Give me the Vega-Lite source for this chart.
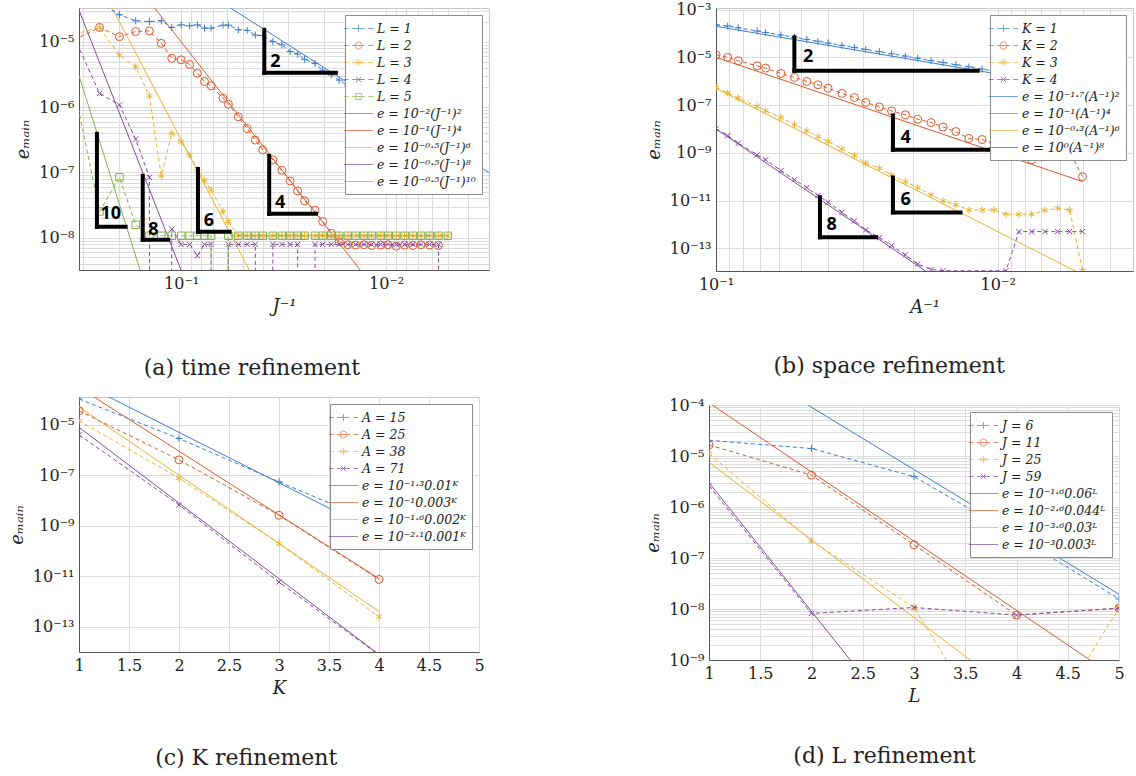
{
"$schema": "https://vega.github.io/schema/vega-lite/v6.json",
"padding": {"left": 7, "top": 1, "right": 0, "bottom": 0},
"background": "white",
"config": {
  "view": {"stroke": "#c8c8c8", "strokeWidth": 1},
  "axis": {"labelFont": "DejaVu Serif", "labelFontSize": 16, "labelColor": "#222", "titleFont": "DejaVu Serif", "titleFontSize": 18, "titleFontStyle": "italic", "titleFontWeight": "normal", "titleColor": "#222", "gridColor": "#dcdcdc", "gridWidth": 1, "domainColor": "#555", "ticks": false, "labelPadding": 5, "titlePadding": 6, "labelOverlap": false, "labelFlush": false},
  "legend": {"orient": "top-right", "offset": 7, "padding": 6, "fillColor": "white", "strokeColor": "#8c8c8c", "strokeWidth": 1, "labelFont": "DejaVu Serif", "labelFontStyle": "italic", "labelFontSize": 12.5, "labelColor": "#222", "symbolSize": 196, "symbolStrokeWidth": 1, "rowPadding": 3, "labelOffset": 11, "labelLimit": 300, "cornerRadius": 0},
  "title": {"font": "DejaVu Serif", "fontSize": 22, "fontWeight": "normal", "color": "#222"}
},
"datasets": {
  "a_pts": [
    {"s":"L = 1","x":0.25,"y":4.0e-5},{"s":"L = 1","x":0.2,"y":2.6e-5},{"s":"L = 1","x":0.16667,"y":2.1e-5},{"s":"L = 1","x":0.14286,"y":2.05e-5},{"s":"L = 1","x":0.125,"y":2.1e-5},{"s":"L = 1","x":0.11111,"y":1.66e-5},{"s":"L = 1","x":0.1,"y":1.82e-5},{"s":"L = 1","x":0.090909,"y":1.76e-5},{"s":"L = 1","x":0.083333,"y":1.82e-5},{"s":"L = 1","x":0.076923,"y":1.62e-5},{"s":"L = 1","x":0.071429,"y":1.62e-5},{"s":"L = 1","x":0.0625,"y":1.8e-5},{"s":"L = 1","x":0.058824,"y":1.8e-5},{"s":"L = 1","x":0.052632,"y":1.53e-5},{"s":"L = 1","x":0.047619,"y":1.5e-5},{"s":"L = 1","x":0.043478,"y":1.27e-5},{"s":"L = 1","x":0.04,"y":1.25e-5},{"s":"L = 1","x":0.035714,"y":1.01e-5},{"s":"L = 1","x":0.032258,"y":9.0e-6},{"s":"L = 1","x":0.029412,"y":7.1e-6},{"s":"L = 1","x":0.027027,"y":6.5e-6},{"s":"L = 1","x":0.025,"y":5.4e-6},{"s":"L = 1","x":0.022222,"y":4.66e-6},{"s":"L = 1","x":0.020408,"y":3.68e-6},{"s":"L = 1","x":0.018519,"y":3.12e-6},{"s":"L = 1","x":0.016949,"y":2.59e-6},{"s":"L = 1","x":0.015385,"y":2.13e-6},{"s":"L = 1","x":0.014085,"y":1.79e-6},{"s":"L = 1","x":0.012821,"y":1.48e-6},{"s":"L = 1","x":0.011765,"y":1.25e-6},{"s":"L = 1","x":0.010638,"y":1.02e-6},{"s":"L = 1","x":0.0098039,"y":8.7e-7},{"s":"L = 1","x":0.0089286,"y":7.2e-7},{"s":"L = 1","x":0.0081301,"y":6.0e-7},
    {"s":"L = 2","x":0.33333,"y":1.07e-5},{"s":"L = 2","x":0.25,"y":1.66e-5},{"s":"L = 2","x":0.2,"y":1.2e-5},{"s":"L = 2","x":0.16667,"y":1.44e-5},{"s":"L = 2","x":0.14286,"y":1.47e-5},{"s":"L = 2","x":0.125,"y":9.5e-6},{"s":"L = 2","x":0.11111,"y":5.6e-6},{"s":"L = 2","x":0.1,"y":5.3e-6},{"s":"L = 2","x":0.090909,"y":4.5e-6},{"s":"L = 2","x":0.083333,"y":3.3e-6},{"s":"L = 2","x":0.076923,"y":2.47e-6},{"s":"L = 2","x":0.071429,"y":2.12e-6},{"s":"L = 2","x":0.0625,"y":1.37e-6},{"s":"L = 2","x":0.058824,"y":1.11e-6},{"s":"L = 2","x":0.052632,"y":7.1e-7},{"s":"L = 2","x":0.047619,"y":4.7e-7},{"s":"L = 2","x":0.043478,"y":3.13e-7},{"s":"L = 2","x":0.04,"y":2.22e-7},{"s":"L = 2","x":0.035714,"y":1.56e-7},{"s":"L = 2","x":0.032258,"y":1.08e-7},{"s":"L = 2","x":0.029412,"y":7.4e-8},{"s":"L = 2","x":0.027027,"y":5.2e-8},{"s":"L = 2","x":0.025,"y":3.67e-8},{"s":"L = 2","x":0.022222,"y":2.64e-8},{"s":"L = 2","x":0.020408,"y":1.77e-8},{"s":"L = 2","x":0.018519,"y":1.17e-8},{"s":"L = 2","x":0.016949,"y":8.7e-9},{"s":"L = 2","x":0.015385,"y":7.8e-9},{"s":"L = 2","x":0.014085,"y":7.7e-9},{"s":"L = 2","x":0.012821,"y":7.8e-9},{"s":"L = 2","x":0.011765,"y":7.6e-9},{"s":"L = 2","x":0.010638,"y":7.7e-9},{"s":"L = 2","x":0.0098039,"y":7.8e-9},{"s":"L = 2","x":0.0089286,"y":7.4e-9},{"s":"L = 2","x":0.0081301,"y":7.7e-9},{"s":"L = 2","x":0.0074074,"y":7.6e-9},{"s":"L = 2","x":0.0067568,"y":7.8e-9},{"s":"L = 2","x":0.006135,"y":7.7e-9},{"s":"L = 2","x":0.0055556,"y":7.6e-9},
    {"s":"L = 3","x":0.33333,"y":1.3e-5},{"s":"L = 3","x":0.25,"y":1.66e-5},{"s":"L = 3","x":0.2,"y":6.25e-6},{"s":"L = 3","x":0.16667,"y":4.14e-6},{"s":"L = 3","x":0.14286,"y":1.49e-6},{"s":"L = 3","x":0.125,"y":8.9e-8},{"s":"L = 3","x":0.11111,"y":4.0e-7},{"s":"L = 3","x":0.1,"y":2.94e-7},{"s":"L = 3","x":0.090909,"y":1.84e-7},{"s":"L = 3","x":0.083333,"y":1.12e-7},{"s":"L = 3","x":0.076923,"y":7.6e-8},{"s":"L = 3","x":0.071429,"y":5.4e-8},{"s":"L = 3","x":0.0625,"y":2.52e-8},{"s":"L = 3","x":0.058824,"y":1.77e-8},{"s":"L = 3","x":0.052632,"y":1.07e-8},{"s":"L = 3","x":0.047619,"y":1.07e-8},{"s":"L = 3","x":0.043478,"y":1.07e-8},{"s":"L = 3","x":0.04,"y":1.07e-8},{"s":"L = 3","x":0.035714,"y":1.07e-8},{"s":"L = 3","x":0.032258,"y":1.07e-8},{"s":"L = 3","x":0.029412,"y":1.07e-8},{"s":"L = 3","x":0.027027,"y":1.07e-8},{"s":"L = 3","x":0.025,"y":1.07e-8},{"s":"L = 3","x":0.022222,"y":1.07e-8},{"s":"L = 3","x":0.020408,"y":1.07e-8},{"s":"L = 3","x":0.018519,"y":1.07e-8},{"s":"L = 3","x":0.016949,"y":1.07e-8},{"s":"L = 3","x":0.015385,"y":1.07e-8},{"s":"L = 3","x":0.014085,"y":1.07e-8},{"s":"L = 3","x":0.012821,"y":1.07e-8},{"s":"L = 3","x":0.011765,"y":1.07e-8},{"s":"L = 3","x":0.010638,"y":1.07e-8},{"s":"L = 3","x":0.0098039,"y":1.07e-8},{"s":"L = 3","x":0.0089286,"y":1.07e-8},{"s":"L = 3","x":0.0081301,"y":1.07e-8},{"s":"L = 3","x":0.0074074,"y":1.07e-8},{"s":"L = 3","x":0.0067568,"y":1.07e-8},{"s":"L = 3","x":0.006135,"y":1.07e-8},{"s":"L = 3","x":0.0055556,"y":1.07e-8},{"s":"L = 3","x":0.005,"y":1.07e-8},
    {"s":"L = 4","x":0.33333,"y":1.19e-5},{"s":"L = 4","x":0.25,"y":1.62e-6},{"s":"L = 4","x":0.2,"y":1.08e-6},{"s":"L = 4","x":0.16667,"y":3.24e-7},{"s":"L = 4","x":0.14286,"y":8.4e-8},{"s":"L = 4","x":0.125,"y":1e-100},{"s":"L = 4","x":0.11111,"y":1.35e-8},{"s":"L = 4","x":0.1,"y":7.9e-9},{"s":"L = 4","x":0.090909,"y":7.9e-9},{"s":"L = 4","x":0.083333,"y":5.3e-9},{"s":"L = 4","x":0.076923,"y":7.9e-9},{"s":"L = 4","x":0.071429,"y":7.9e-9},{"s":"L = 4","x":0.0625,"y":1e-100},{"s":"L = 4","x":0.058824,"y":7.9e-9},{"s":"L = 4","x":0.052632,"y":7.9e-9},{"s":"L = 4","x":0.047619,"y":7.9e-9},{"s":"L = 4","x":0.043478,"y":7.9e-9},{"s":"L = 4","x":0.04,"y":1e-100},{"s":"L = 4","x":0.035714,"y":7.9e-9},{"s":"L = 4","x":0.032258,"y":7.9e-9},{"s":"L = 4","x":0.029412,"y":7.9e-9},{"s":"L = 4","x":0.027027,"y":7.9e-9},{"s":"L = 4","x":0.025,"y":1e-100},{"s":"L = 4","x":0.022222,"y":7.9e-9},{"s":"L = 4","x":0.020408,"y":7.9e-9},{"s":"L = 4","x":0.018519,"y":7.9e-9},{"s":"L = 4","x":0.016949,"y":7.9e-9},{"s":"L = 4","x":0.015385,"y":7.9e-9},{"s":"L = 4","x":0.014085,"y":7.9e-9},{"s":"L = 4","x":0.012821,"y":7.9e-9},{"s":"L = 4","x":0.011765,"y":7.9e-9},{"s":"L = 4","x":0.010638,"y":7.9e-9},{"s":"L = 4","x":0.0098039,"y":7.9e-9},{"s":"L = 4","x":0.0089286,"y":7.9e-9},{"s":"L = 4","x":0.0081301,"y":7.9e-9},{"s":"L = 4","x":0.0074074,"y":7.9e-9},{"s":"L = 4","x":0.0067568,"y":7.9e-9},{"s":"L = 4","x":0.006135,"y":7.9e-9},{"s":"L = 4","x":0.0055556,"y":7.9e-9},{"s":"L = 4","x":0.005,"y":1e-100},
    {"s":"L = 5","x":0.33333,"y":2.0e-6},{"s":"L = 5","x":0.25,"y":2.52e-8},{"s":"L = 5","x":0.2,"y":8.4e-8},{"s":"L = 5","x":0.16667,"y":1.58e-8},{"s":"L = 5","x":0.14286,"y":1.07e-8},{"s":"L = 5","x":0.125,"y":1.07e-8},{"s":"L = 5","x":0.11111,"y":1.07e-8},{"s":"L = 5","x":0.1,"y":1.07e-8},{"s":"L = 5","x":0.090909,"y":1.07e-8},{"s":"L = 5","x":0.083333,"y":1.07e-8},{"s":"L = 5","x":0.076923,"y":1.07e-8},{"s":"L = 5","x":0.071429,"y":1.07e-8},{"s":"L = 5","x":0.0625,"y":1e-100},{"s":"L = 5","x":0.058824,"y":1.07e-8},{"s":"L = 5","x":0.052632,"y":1.07e-8},{"s":"L = 5","x":0.047619,"y":1.07e-8},{"s":"L = 5","x":0.043478,"y":1.07e-8},{"s":"L = 5","x":0.04,"y":1.07e-8},{"s":"L = 5","x":0.035714,"y":1.07e-8},{"s":"L = 5","x":0.032258,"y":1.07e-8},{"s":"L = 5","x":0.029412,"y":1.07e-8},{"s":"L = 5","x":0.027027,"y":1.07e-8},{"s":"L = 5","x":0.025,"y":1.07e-8},{"s":"L = 5","x":0.022222,"y":1.07e-8},{"s":"L = 5","x":0.020408,"y":1.07e-8},{"s":"L = 5","x":0.018519,"y":1.07e-8},{"s":"L = 5","x":0.016949,"y":1.07e-8},{"s":"L = 5","x":0.015385,"y":1.07e-8},{"s":"L = 5","x":0.014085,"y":1.07e-8},{"s":"L = 5","x":0.012821,"y":1.07e-8},{"s":"L = 5","x":0.011765,"y":1.07e-8},{"s":"L = 5","x":0.010638,"y":1.07e-8},{"s":"L = 5","x":0.0098039,"y":1.07e-8},{"s":"L = 5","x":0.0089286,"y":1.07e-8},{"s":"L = 5","x":0.0081301,"y":1.07e-8},{"s":"L = 5","x":0.0074074,"y":1.07e-8},{"s":"L = 5","x":0.0067568,"y":1.07e-8},{"s":"L = 5","x":0.006135,"y":1.07e-8},{"s":"L = 5","x":0.0055556,"y":1.07e-8},{"s":"L = 5","x":0.005,"y":1.07e-8}
  ],
  "a_fit": [
    {"s":"f2","x":0.315,"y":9.92e-4},{"s":"f2","x":0.00315,"y":9.92e-8},
    {"s":"f4","x":0.315,"y":9.85e-4},{"s":"f4","x":0.00315,"y":9.85e-12},
    {"s":"f6","x":0.315,"y":3.09e-4},{"s":"f6","x":0.00315,"y":3.09e-16},
    {"s":"f8","x":0.315,"y":3.06e-5},{"s":"f8","x":0.00315,"y":3.06e-21},
    {"s":"f10","x":0.315,"y":3.04e-6},{"s":"f10","x":0.00315,"y":3.04e-26}
  ],
  "a_leg": [{"s":"L = 1"},{"s":"L = 2"},{"s":"L = 3"},{"s":"L = 4"},{"s":"L = 5"},{"s":"e = 10⁻²(J⁻¹)²"},{"s":"e = 10⁻¹(J⁻¹)⁴"},{"s":"e = 10⁻⁰·⁵(J⁻¹)⁶"},{"s":"e = 10⁻⁰·⁵(J⁻¹)⁸"},{"s":"e = 10⁻⁰·⁵(J⁻¹)¹⁰"}],
  "a_tri": [
    {"x":0.0393,"x2":0.0393,"y":1.53e-5,"y2":3.35e-6},{"x":0.0393,"x2":0.0176,"y":3.35e-6,"y2":3.35e-6},
    {"x":0.0372,"x2":0.0372,"y":1.79e-7,"y2":2.32e-8},{"x":0.0372,"x2":0.022,"y":2.32e-8,"y2":2.32e-8},
    {"x":0.0828,"x2":0.0828,"y":1.13e-7,"y2":1.23e-8},{"x":0.0828,"x2":0.058,"y":1.23e-8,"y2":1.23e-8},
    {"x":0.154,"x2":0.154,"y":8.87e-8,"y2":9.29e-9},{"x":0.154,"x2":0.1156,"y":9.29e-9,"y2":9.29e-9},
    {"x":0.2576,"x2":0.2576,"y":3.9e-7,"y2":1.47e-8},{"x":0.2576,"x2":0.1866,"y":1.47e-8,"y2":1.47e-8}
  ],
  "a_txt": [{"x":0.0347,"y":4.94e-6,"t":"2"},{"x":0.0329,"y":3.42e-8,"t":"4"},{"x":0.0733,"y":1.82e-8,"t":"6"},{"x":0.1365,"y":1.32e-8,"t":"8"},{"x":0.2203,"y":2.32e-8,"t":"10"}],
  "b_pts": [
    {"s":"K = 1","x":0.1,"y":2.3e-4},{"s":"K = 1","x":0.090909,"y":2.06e-4},{"s":"K = 1","x":0.083333,"y":1.73e-4},{"s":"K = 1","x":0.071429,"y":1.27e-4},{"s":"K = 1","x":0.066667,"y":1.11e-4},{"s":"K = 1","x":0.058824,"y":8.6e-5},{"s":"K = 1","x":0.052632,"y":6.9e-5},{"s":"K = 1","x":0.047619,"y":5.66e-5},{"s":"K = 1","x":0.043478,"y":4.71e-5},{"s":"K = 1","x":0.04,"y":3.99e-5},{"s":"K = 1","x":0.035714,"y":3.18e-5},{"s":"K = 1","x":0.032258,"y":2.6e-5},{"s":"K = 1","x":0.029412,"y":2.16e-5},{"s":"K = 1","x":0.026316,"y":1.73e-5},{"s":"K = 1","x":0.02381,"y":1.41e-5},{"s":"K = 1","x":0.021277,"y":1.13e-5},{"s":"K = 1","x":0.019231,"y":9.2e-6},{"s":"K = 1","x":0.017241,"y":7.4e-6},{"s":"K = 1","x":0.015625,"y":6.1e-6},{"s":"K = 1","x":0.014085,"y":4.95e-6},{"s":"K = 1","x":0.012658,"y":4.0e-6},{"s":"K = 1","x":0.011364,"y":3.22e-6},{"s":"K = 1","x":0.010309,"y":2.65e-6},{"s":"K = 1","x":0.0093458,"y":2.18e-6},{"s":"K = 1","x":0.0084034,"y":1.76e-6},{"s":"K = 1","x":0.0075758,"y":1.43e-6},{"s":"K = 1","x":0.0068027,"y":1.15e-6},{"s":"K = 1","x":0.006135,"y":9.4e-7},{"s":"K = 1","x":0.0055556,"y":7.7e-7},{"s":"K = 1","x":0.005,"y":6.2e-7},
    {"s":"K = 2","x":0.1,"y":1.29e-5},{"s":"K = 2","x":0.090909,"y":1.0e-5},{"s":"K = 2","x":0.083333,"y":7.2e-6},{"s":"K = 2","x":0.071429,"y":4.4e-6},{"s":"K = 2","x":0.066667,"y":3.55e-6},{"s":"K = 2","x":0.058824,"y":2.13e-6},{"s":"K = 2","x":0.052632,"y":1.44e-6},{"s":"K = 2","x":0.047619,"y":9.8e-7},{"s":"K = 2","x":0.043478,"y":7.1e-7},{"s":"K = 2","x":0.04,"y":5.1e-7},{"s":"K = 2","x":0.035714,"y":3.07e-7},{"s":"K = 2","x":0.032258,"y":2.08e-7},{"s":"K = 2","x":0.029412,"y":1.29e-7},{"s":"K = 2","x":0.026316,"y":8.4e-8},{"s":"K = 2","x":0.02381,"y":5.7e-8},{"s":"K = 2","x":0.021277,"y":3.9e-8},{"s":"K = 2","x":0.019231,"y":2.56e-8},{"s":"K = 2","x":0.017241,"y":1.86e-8},{"s":"K = 2","x":0.015625,"y":1.21e-8},{"s":"K = 2","x":0.014085,"y":7.8e-9},{"s":"K = 2","x":0.012658,"y":4.0e-9},{"s":"K = 2","x":0.011364,"y":3.6e-9},{"s":"K = 2","x":0.010309,"y":2.5e-9},{"s":"K = 2","x":0.0093458,"y":1.6e-9},{"s":"K = 2","x":0.0084034,"y":1.0e-9},{"s":"K = 2","x":0.0075758,"y":5.1e-10},{"s":"K = 2","x":0.0068027,"y":1.3e-9},{"s":"K = 2","x":0.006135,"y":1.13e-9},{"s":"K = 2","x":0.0055556,"y":1.13e-9},{"s":"K = 2","x":0.005,"y":1.0e-10},
    {"s":"K = 3","x":0.1,"y":5.5e-7},{"s":"K = 3","x":0.090909,"y":3.2e-7},{"s":"K = 3","x":0.083333,"y":1.97e-7},{"s":"K = 3","x":0.071429,"y":8.8e-8},{"s":"K = 3","x":0.066667,"y":5.8e-8},{"s":"K = 3","x":0.058824,"y":3.04e-8},{"s":"K = 3","x":0.052632,"y":1.5e-8},{"s":"K = 3","x":0.047619,"y":8.4e-9},{"s":"K = 3","x":0.043478,"y":4.8e-9},{"s":"K = 3","x":0.04,"y":3.0e-9},{"s":"K = 3","x":0.035714,"y":1.47e-9},{"s":"K = 3","x":0.032258,"y":7.7e-10},{"s":"K = 3","x":0.029412,"y":3.7e-10},{"s":"K = 3","x":0.026316,"y":2.28e-10},{"s":"K = 3","x":0.02381,"y":1.19e-10},{"s":"K = 3","x":0.021277,"y":6.2e-11},{"s":"K = 3","x":0.019231,"y":3.5e-11},{"s":"K = 3","x":0.017241,"y":1.73e-11},{"s":"K = 3","x":0.015625,"y":9.7e-12},{"s":"K = 3","x":0.014085,"y":6.6e-12},{"s":"K = 3","x":0.012658,"y":4.05e-12},{"s":"K = 3","x":0.011364,"y":4.05e-12},{"s":"K = 3","x":0.010309,"y":4.05e-12},{"s":"K = 3","x":0.0093458,"y":2.67e-12},{"s":"K = 3","x":0.0084034,"y":2.67e-12},{"s":"K = 3","x":0.0075758,"y":2.67e-12},{"s":"K = 3","x":0.0068027,"y":3.9e-12},{"s":"K = 3","x":0.006135,"y":4.8e-12},{"s":"K = 3","x":0.0055556,"y":4.05e-12},{"s":"K = 3","x":0.005,"y":1.15e-14},
    {"s":"K = 4","x":0.1,"y":1.02e-8},{"s":"K = 4","x":0.090909,"y":5.3e-9},{"s":"K = 4","x":0.083333,"y":2.55e-9},{"s":"K = 4","x":0.071429,"y":8.2e-10},{"s":"K = 4","x":0.066667,"y":5.1e-10},{"s":"K = 4","x":0.058824,"y":1.8e-10},{"s":"K = 4","x":0.052632,"y":7.4e-11},{"s":"K = 4","x":0.047619,"y":3.5e-11},{"s":"K = 4","x":0.043478,"y":1.62e-11},{"s":"K = 4","x":0.04,"y":8.5e-12},{"s":"K = 4","x":0.035714,"y":3.2e-12},{"s":"K = 4","x":0.032258,"y":1.4e-12},{"s":"K = 4","x":0.029412,"y":5.9e-13},{"s":"K = 4","x":0.026316,"y":2.8e-13},{"s":"K = 4","x":0.02381,"y":1.3e-13},{"s":"K = 4","x":0.021277,"y":5.3e-14},{"s":"K = 4","x":0.019231,"y":2.2e-14},{"s":"K = 4","x":0.017241,"y":1.3e-14},{"s":"K = 4","x":0.015625,"y":1.15e-14},{"s":"K = 4","x":0.0093458,"y":1.15e-14},{"s":"K = 4","x":0.0084034,"y":5.0e-13},{"s":"K = 4","x":0.0075758,"y":5.0e-13},{"s":"K = 4","x":0.0068027,"y":5.0e-13},{"s":"K = 4","x":0.006135,"y":5.0e-13},{"s":"K = 4","x":0.0055556,"y":5.0e-13},{"s":"K = 4","x":0.005,"y":5.0e-13}
  ],
  "b_fit": [
    {"s":"f2","x":0.1,"y":1.995e-4},{"s":"f2","x":0.005,"y":4.99e-7},
    {"s":"f4","x":0.1,"y":1e-5},{"s":"f4","x":0.005,"y":6.25e-11},
    {"s":"f6","x":0.1,"y":5.01e-7},{"s":"f6","x":0.005,"y":7.83e-15},
    {"s":"f8","x":0.1,"y":1e-8},{"s":"f8","x":0.005,"y":3.9e-19}
  ],
  "b_leg": [{"s":"K = 1"},{"s":"K = 2"},{"s":"K = 3"},{"s":"K = 4"},{"s":"e = 10⁻¹·⁷(A⁻¹)²"},{"s":"e = 10⁻¹(A⁻¹)⁴"},{"s":"e = 10⁻⁰·³(A⁻¹)⁶"},{"s":"e = 10⁰(A⁻¹)⁸"}],
  "b_tri": [
    {"x":0.0527,"x2":0.0527,"y":6.9e-5,"y2":2.76e-6},{"x":0.0527,"x2":0.01178,"y":2.76e-6,"y2":2.76e-6},
    {"x":0.02355,"x2":0.02355,"y":3.68e-8,"y2":1.34e-9},{"x":0.02355,"x2":0.01061,"y":1.34e-9,"y2":1.34e-9},
    {"x":0.02355,"x2":0.02355,"y":9.2e-11,"y2":3.2e-12},{"x":0.02355,"x2":0.01355,"y":3.2e-12,"y2":3.2e-12},
    {"x":0.04276,"x2":0.04276,"y":1.38e-11,"y2":2.9e-13},{"x":0.04276,"x2":0.02704,"y":2.9e-13,"y2":2.9e-13}
  ],
  "b_txt": [{"x":0.0471,"y":1.0e-5,"t":"2"},{"x":0.02123,"y":4.1e-9,"t":"4"},{"x":0.02123,"y":1.07e-11,"t":"6"},{"x":0.0389,"y":9.5e-13,"t":"8"}],
  "c_pts": [
    {"s":"A = 15","x":1,"y":1.05e-4},{"s":"A = 15","x":2,"y":2.87e-6},{"s":"A = 15","x":3,"y":5.5e-8},{"s":"A = 15","x":4,"y":1.2e-9},
    {"s":"A = 25","x":1,"y":3.6e-5},{"s":"A = 25","x":2,"y":4.08e-7},{"s":"A = 25","x":3,"y":2.6e-9},{"s":"A = 25","x":4,"y":7.5e-12},
    {"s":"A = 38","x":1,"y":1.44e-5},{"s":"A = 38","x":2,"y":7.7e-8},{"s":"A = 38","x":3,"y":2.0e-10},{"s":"A = 38","x":4,"y":2.5e-13},
    {"s":"A = 71","x":1,"y":4.0e-6},{"s":"A = 71","x":2,"y":6.7e-9},{"s":"A = 71","x":3,"y":5.9e-12},{"s":"A = 71","x":4,"y":7.6e-15}
  ],
  "c_fit": [
    {"s":"f1","x":1,"y":5.01e-4},{"s":"f1","x":4,"y":5.01e-10},
    {"s":"f2","x":1,"y":3e-4},{"s":"f2","x":4,"y":8.1e-12},
    {"s":"f3","x":1,"y":5.02e-5},{"s":"f3","x":4,"y":4.02e-13},
    {"s":"f4","x":1,"y":7.94e-6},{"s":"f4","x":4,"y":7.94e-15}
  ],
  "c_leg": [{"s":"A = 15"},{"s":"A = 25"},{"s":"A = 38"},{"s":"A = 71"},{"s":"e = 10⁻¹·³0.01ᴷ"},{"s":"e = 10⁻¹0.003ᴷ"},{"s":"e = 10⁻¹·⁶0.002ᴷ"},{"s":"e = 10⁻²·¹0.001ᴷ"}],
  "d_pts": [
    {"s":"J = 6","x":1,"y":2.03e-5},{"s":"J = 6","x":2,"y":1.4e-5},{"s":"J = 6","x":3,"y":3.95e-6},{"s":"J = 6","x":4,"y":2.7e-7},{"s":"J = 6","x":5,"y":1.57e-8},
    {"s":"J = 11","x":1,"y":1.65e-5},{"s":"J = 11","x":2,"y":4.2e-6},{"s":"J = 11","x":3,"y":1.82e-7},{"s":"J = 11","x":4,"y":7.6e-9},{"s":"J = 11","x":5,"y":1.04e-8},
    {"s":"J = 25","x":1,"y":1.11e-5},{"s":"J = 25","x":2,"y":2.17e-7},{"s":"J = 25","x":3,"y":1.07e-8},{"s":"J = 25","x":4,"y":6e-12},{"s":"J = 25","x":5,"y":1.04e-8},
    {"s":"J = 59","x":1,"y":2.6e-6},{"s":"J = 59","x":2,"y":8.2e-9},{"s":"J = 59","x":3,"y":1.07e-8},{"s":"J = 59","x":4,"y":7.6e-9},{"s":"J = 59","x":5,"y":1.04e-8}
  ],
  "d_fit": [
    {"s":"f1","x":1,"y":1.506e-3},{"s":"f1","x":5,"y":1.95e-8},
    {"s":"f2","x":1,"y":1.105e-4},{"s":"f2","x":5,"y":4.14e-10},
    {"s":"f3","x":1,"y":7.54e-6},{"s":"f3","x":5,"y":6.1e-12},
    {"s":"f4","x":1,"y":3e-6},{"s":"f4","x":5,"y":2.43e-16}
  ],
  "d_leg": [{"s":"J = 6"},{"s":"J = 11"},{"s":"J = 25"},{"s":"J = 59"},{"s":"e = 10⁻¹·⁶0.06ᴸ"},{"s":"e = 10⁻²·⁶0.044ᴸ"},{"s":"e = 10⁻³·⁶0.03ᴸ"},{"s":"e = 10⁻³0.003ᴸ"}]
},
"columns": 2,
"align": "none",
"spacing": {"row": 16, "column": 154},
"resolve": {"scale": {"color": "independent", "shape": "independent", "x": "independent", "y": "independent"}, "legend": {"color": "independent", "shape": "independent"}},
"concat": [
   {
    "width": 410, "height": 262,
    "title": {"text": "(a) time refinement", "orient": "bottom", "anchor": "middle", "frame": "bounds", "offset": 43},
    "encoding": {
      "x": {"field": "x", "type": "quantitative", "scale": {"type": "log", "domain": [0.00315, 0.315], "reverse": true, "nice": false}, "axis": {"title": "J⁻¹", "values": [0.3,0.2,0.1,0.09,0.08,0.07,0.06,0.05,0.04,0.03,0.02,0.01,0.009,0.008,0.007,0.006,0.005,0.004], "labelExpr": "abs(log(datum.value)/LN10-round(log(datum.value)/LN10))>0.01?'':'10'+(round(log(datum.value)/LN10)<0?'⁻':'')+(abs(round(log(datum.value)/LN10))>=10?['⁰','¹','²','³','⁴','⁵','⁶','⁷','⁸','⁹'][floor(abs(round(log(datum.value)/LN10))/10)]:'')+['⁰','¹','²','³','⁴','⁵','⁶','⁷','⁸','⁹'][abs(round(log(datum.value)/LN10))%10]"}},
      "y": {"field": "y", "type": "quantitative", "scale": {"type": "log", "domain": [3.2e-9, 3.3e-5], "nice": false}, "axis": {"title": "eₘₐᵢₙ", "titlePadding": 6, "values": [4e-9,5e-9,6e-9,7e-9,8e-9,9e-9,1e-8,2e-8,3e-8,4e-8,5e-8,6e-8,7e-8,8e-8,9e-8,1e-7,2e-7,3e-7,4e-7,5e-7,6e-7,7e-7,8e-7,9e-7,1e-6,2e-6,3e-6,4e-6,5e-6,6e-6,7e-6,8e-6,9e-6,1e-5,2e-5,3e-5], "labelExpr": "abs(log(datum.value)/LN10-round(log(datum.value)/LN10))>0.01?'':'10'+(round(log(datum.value)/LN10)<0?'⁻':'')+(abs(round(log(datum.value)/LN10))>=10?['⁰','¹','²','³','⁴','⁵','⁶','⁷','⁸','⁹'][floor(abs(round(log(datum.value)/LN10))/10)]:'')+['⁰','¹','²','³','⁴','⁵','⁶','⁷','⁸','⁹'][abs(round(log(datum.value)/LN10))%10]"}}
    },
    "layer": [
      {"data": {"name": "a_fit"}, "transform": [{"filter": "datum.s === 'f2'"}], "mark": {"type": "line", "color": "#3c7dd1", "strokeWidth": 1, "clip": true}},
      {"data": {"name": "a_fit"}, "transform": [{"filter": "datum.s === 'f4'"}], "mark": {"type": "line", "color": "#dc5a2c", "strokeWidth": 1, "clip": true}},
      {"data": {"name": "a_fit"}, "transform": [{"filter": "datum.s === 'f6'"}], "mark": {"type": "line", "color": "#ebb12b", "strokeWidth": 1, "clip": true}},
      {"data": {"name": "a_fit"}, "transform": [{"filter": "datum.s === 'f8'"}], "mark": {"type": "line", "color": "#854a9f", "strokeWidth": 1, "clip": true}},
      {"data": {"name": "a_fit"}, "transform": [{"filter": "datum.s === 'f10'"}], "mark": {"type": "line", "color": "#84b247", "strokeWidth": 1, "clip": true}},
      {"data": {"name": "a_pts"}, "transform": [{"filter": "datum.s === 'L = 1'"}], "layer": [
        {"mark": {"type": "line", "color": "#3c7dd1", "strokeWidth": 1, "strokeDash": [4, 3], "clip": true}},
        {"mark": {"type": "point", "color": "#3c7dd1", "shape": "M-1,0H1M0,-1V1", "filled": false, "size": 49, "strokeWidth": 1, "opacity": 1, "clip": true}}]},
      {"data": {"name": "a_pts"}, "transform": [{"filter": "datum.s === 'L = 2'"}], "layer": [
        {"mark": {"type": "line", "color": "#dc5a2c", "strokeWidth": 1, "strokeDash": [4, 3], "clip": true}},
        {"mark": {"type": "point", "color": "#dc5a2c", "shape": "circle", "filled": false, "size": 64, "strokeWidth": 1, "opacity": 1, "clip": true}}]},
      {"data": {"name": "a_pts"}, "transform": [{"filter": "datum.s === 'L = 3'"}], "layer": [
        {"mark": {"type": "line", "color": "#ebb12b", "strokeWidth": 1, "strokeDash": [4, 3], "clip": true}},
        {"mark": {"type": "point", "color": "#ebb12b", "shape": "M0,-1V1M-0.87,-0.5L0.87,0.5M-0.87,0.5L0.87,-0.5", "filled": false, "size": 49, "strokeWidth": 1, "opacity": 1, "clip": true}}]},
      {"data": {"name": "a_pts"}, "transform": [{"filter": "datum.s === 'L = 4'"}], "layer": [
        {"mark": {"type": "line", "color": "#854a9f", "strokeWidth": 1, "strokeDash": [4, 3], "clip": true}},
        {"mark": {"type": "point", "color": "#854a9f", "shape": "M-0.75,-0.75L0.75,0.75M-0.75,0.75L0.75,-0.75", "filled": false, "size": 49, "strokeWidth": 1, "opacity": 1, "clip": true}}]},
      {"data": {"name": "a_pts"}, "transform": [{"filter": "datum.s === 'L = 5'"}], "layer": [
        {"mark": {"type": "line", "color": "#84b247", "strokeWidth": 1, "strokeDash": [4, 3], "clip": true}},
        {"mark": {"type": "point", "color": "#84b247", "shape": "square", "filled": false, "size": 56, "strokeWidth": 1, "opacity": 1, "clip": true}}]},
      {"data": {"name": "a_tri"}, "mark": {"type": "rule", "color": "black", "strokeWidth": 4, "strokeCap": "square"}, "encoding": {"x2": {"field": "x2"}, "y2": {"field": "y2"}}},
      {"data": {"name": "a_txt"}, "mark": {"type": "text", "color": "black", "font": "Open Sans", "fontWeight": "bold", "fontSize": 18}, "encoding": {"text": {"field": "t"}}},
      {"data": {"name": "a_leg"}, "mark": {"type": "point", "filled": false, "size": 196, "strokeWidth": 1},
       "encoding": {
         "color": {"field": "s", "type": "nominal", "scale": {"domain": ["L = 1","L = 2","L = 3","L = 4","L = 5","e = 10⁻²(J⁻¹)²","e = 10⁻¹(J⁻¹)⁴","e = 10⁻⁰·⁵(J⁻¹)⁶","e = 10⁻⁰·⁵(J⁻¹)⁸","e = 10⁻⁰·⁵(J⁻¹)¹⁰"], "range": ["#3c7dd1","#dc5a2c","#ebb12b","#854a9f","#84b247","#3c7dd1","#dc5a2c","#ebb12b","#854a9f","#84b247"]}, "legend": {"title": null}},
         "shape": {"field": "s", "type": "nominal", "scale": {"domain": ["L = 1","L = 2","L = 3","L = 4","L = 5","e = 10⁻²(J⁻¹)²","e = 10⁻¹(J⁻¹)⁴","e = 10⁻⁰·⁵(J⁻¹)⁶","e = 10⁻⁰·⁵(J⁻¹)⁸","e = 10⁻⁰·⁵(J⁻¹)¹⁰"], "range": ["M-2.1,0H-1.4M-0.9,0H0.9M1.4,0H2.1M0,-0.5V0.5","M-2.1,0H-1.4M-0.9,0H0.9M1.4,0H2.1M0.5,0A0.5,0.5 0 1,1 -0.5,0A0.5,0.5 0 1,1 0.5,0","M-2.1,0H-1.4M-0.9,0H0.9M1.4,0H2.1M0,-0.5V0.5M-0.43,-0.25L0.43,0.25M-0.43,0.25L0.43,-0.25","M-2.1,0H-1.4M-0.9,0H0.9M1.4,0H2.1M-0.38,-0.38L0.38,0.38M-0.38,0.38L0.38,-0.38","M-2.1,0H-1.4M-0.9,0H0.9M1.4,0H2.1M-0.42,-0.42H0.42V0.42H-0.42Z","M-2.1,0H2.1","M-2.1,0H2.1","M-2.1,0H2.1","M-2.1,0H2.1","M-2.1,0H2.1"]}, "legend": {"title": null}}
       }}
    ]
   },
   {
    "width": 417, "height": 263,
    "title": {"text": "(b) space refinement", "orient": "bottom", "anchor": "middle", "frame": "bounds", "offset": 40},
    "encoding": {
      "x": {"field": "x", "type": "quantitative", "scale": {"type": "log", "domain": [0.00331, 0.1], "reverse": true, "nice": false}, "axis": {"title": "A⁻¹", "values": [0.1,0.09,0.08,0.07,0.06,0.05,0.04,0.03,0.02,0.01,0.009,0.008,0.007,0.006,0.005,0.004], "labelExpr": "abs(log(datum.value)/LN10-round(log(datum.value)/LN10))>0.01?'':'10'+(round(log(datum.value)/LN10)<0?'⁻':'')+(abs(round(log(datum.value)/LN10))>=10?['⁰','¹','²','³','⁴','⁵','⁶','⁷','⁸','⁹'][floor(abs(round(log(datum.value)/LN10))/10)]:'')+['⁰','¹','²','³','⁴','⁵','⁶','⁷','⁸','⁹'][abs(round(log(datum.value)/LN10))%10]"}},
      "y": {"field": "y", "type": "quantitative", "scale": {"type": "log", "domain": [1.12e-14, 1.17e-3], "nice": false}, "axis": {"title": "eₘₐᵢₙ", "titlePadding": 6, "values": [1e-13,1e-11,1e-9,1e-7,1e-5,1e-3], "labelExpr": "abs(log(datum.value)/LN10-round(log(datum.value)/LN10))>0.01?'':'10'+(round(log(datum.value)/LN10)<0?'⁻':'')+(abs(round(log(datum.value)/LN10))>=10?['⁰','¹','²','³','⁴','⁵','⁶','⁷','⁸','⁹'][floor(abs(round(log(datum.value)/LN10))/10)]:'')+['⁰','¹','²','³','⁴','⁵','⁶','⁷','⁸','⁹'][abs(round(log(datum.value)/LN10))%10]"}}
    },
    "layer": [
      {"data": {"name": "b_fit"}, "transform": [{"filter": "datum.s === 'f2'"}], "mark": {"type": "line", "color": "#3c7dd1", "strokeWidth": 1, "clip": true}},
      {"data": {"name": "b_fit"}, "transform": [{"filter": "datum.s === 'f4'"}], "mark": {"type": "line", "color": "#dc5a2c", "strokeWidth": 1, "clip": true}},
      {"data": {"name": "b_fit"}, "transform": [{"filter": "datum.s === 'f6'"}], "mark": {"type": "line", "color": "#ebb12b", "strokeWidth": 1, "clip": true}},
      {"data": {"name": "b_fit"}, "transform": [{"filter": "datum.s === 'f8'"}], "mark": {"type": "line", "color": "#854a9f", "strokeWidth": 1, "clip": true}},
      {"data": {"name": "b_pts"}, "transform": [{"filter": "datum.s === 'K = 1'"}], "layer": [
        {"mark": {"type": "line", "color": "#3c7dd1", "strokeWidth": 1, "strokeDash": [4, 3], "clip": true}},
        {"mark": {"type": "point", "color": "#3c7dd1", "shape": "M-1,0H1M0,-1V1", "filled": false, "size": 49, "strokeWidth": 1, "opacity": 1, "clip": true}}]},
      {"data": {"name": "b_pts"}, "transform": [{"filter": "datum.s === 'K = 2'"}], "layer": [
        {"mark": {"type": "line", "color": "#dc5a2c", "strokeWidth": 1, "strokeDash": [4, 3], "clip": true}},
        {"mark": {"type": "point", "color": "#dc5a2c", "shape": "circle", "filled": false, "size": 64, "strokeWidth": 1, "opacity": 1, "clip": true}}]},
      {"data": {"name": "b_pts"}, "transform": [{"filter": "datum.s === 'K = 3'"}], "layer": [
        {"mark": {"type": "line", "color": "#ebb12b", "strokeWidth": 1, "strokeDash": [4, 3], "clip": true}},
        {"mark": {"type": "point", "color": "#ebb12b", "shape": "M0,-1V1M-0.87,-0.5L0.87,0.5M-0.87,0.5L0.87,-0.5", "filled": false, "size": 49, "strokeWidth": 1, "opacity": 1, "clip": true}}]},
      {"data": {"name": "b_pts"}, "transform": [{"filter": "datum.s === 'K = 4'"}], "layer": [
        {"mark": {"type": "line", "color": "#854a9f", "strokeWidth": 1, "strokeDash": [4, 3], "clip": true}},
        {"mark": {"type": "point", "color": "#854a9f", "shape": "M-0.75,-0.75L0.75,0.75M-0.75,0.75L0.75,-0.75", "filled": false, "size": 49, "strokeWidth": 1, "opacity": 1, "clip": true}}]},
      {"data": {"name": "b_tri"}, "mark": {"type": "rule", "color": "black", "strokeWidth": 4, "strokeCap": "square"}, "encoding": {"x2": {"field": "x2"}, "y2": {"field": "y2"}}},
      {"data": {"name": "b_txt"}, "mark": {"type": "text", "color": "black", "font": "Open Sans", "fontWeight": "bold", "fontSize": 18}, "encoding": {"text": {"field": "t"}}},
      {"data": {"name": "b_leg"}, "mark": {"type": "point", "filled": false, "size": 196, "strokeWidth": 1},
       "encoding": {
         "color": {"field": "s", "type": "nominal", "scale": {"domain": ["K = 1","K = 2","K = 3","K = 4","e = 10⁻¹·⁷(A⁻¹)²","e = 10⁻¹(A⁻¹)⁴","e = 10⁻⁰·³(A⁻¹)⁶","e = 10⁰(A⁻¹)⁸"], "range": ["#3c7dd1","#dc5a2c","#ebb12b","#854a9f","#3c7dd1","#dc5a2c","#ebb12b","#854a9f"]}, "legend": {"title": null}},
         "shape": {"field": "s", "type": "nominal", "scale": {"domain": ["K = 1","K = 2","K = 3","K = 4","e = 10⁻¹·⁷(A⁻¹)²","e = 10⁻¹(A⁻¹)⁴","e = 10⁻⁰·³(A⁻¹)⁶","e = 10⁰(A⁻¹)⁸"], "range": ["M-2.1,0H-1.4M-0.9,0H0.9M1.4,0H2.1M0,-0.5V0.5","M-2.1,0H-1.4M-0.9,0H0.9M1.4,0H2.1M0.5,0A0.5,0.5 0 1,1 -0.5,0A0.5,0.5 0 1,1 0.5,0","M-2.1,0H-1.4M-0.9,0H0.9M1.4,0H2.1M0,-0.5V0.5M-0.43,-0.25L0.43,0.25M-0.43,0.25L0.43,-0.25","M-2.1,0H-1.4M-0.9,0H0.9M1.4,0H2.1M-0.38,-0.38L0.38,0.38M-0.38,0.38L0.38,-0.38","M-2.1,0H2.1","M-2.1,0H2.1","M-2.1,0H2.1","M-2.1,0H2.1"]}, "legend": {"title": null}}
       }}
    ]
   },
   {
    "width": 400, "height": 255,
    "title": {"text": "(c) K refinement", "orient": "bottom", "anchor": "middle", "frame": "bounds", "offset": 51},
    "encoding": {
      "x": {"field": "x", "type": "quantitative", "scale": {"domain": [1, 5], "nice": false}, "axis": {"title": "K", "values": [1,1.5,2,2.5,3,3.5,4,4.5,5], "labelExpr": "toString(datum.value)"}},
      "y": {"field": "y", "type": "quantitative", "scale": {"type": "log", "domain": [1e-14, 1.26e-4], "nice": false}, "axis": {"title": "eₘₐᵢₙ", "titlePadding": 6, "values": [1e-13,1e-11,1e-9,1e-7,1e-5], "labelExpr": "abs(log(datum.value)/LN10-round(log(datum.value)/LN10))>0.01?'':'10'+(round(log(datum.value)/LN10)<0?'⁻':'')+(abs(round(log(datum.value)/LN10))>=10?['⁰','¹','²','³','⁴','⁵','⁶','⁷','⁸','⁹'][floor(abs(round(log(datum.value)/LN10))/10)]:'')+['⁰','¹','²','³','⁴','⁵','⁶','⁷','⁸','⁹'][abs(round(log(datum.value)/LN10))%10]"}}
    },
    "layer": [
      {"data": {"name": "c_fit"}, "transform": [{"filter": "datum.s === 'f1'"}], "mark": {"type": "line", "color": "#3c7dd1", "strokeWidth": 1, "clip": true}},
      {"data": {"name": "c_fit"}, "transform": [{"filter": "datum.s === 'f2'"}], "mark": {"type": "line", "color": "#dc5a2c", "strokeWidth": 1, "clip": true}},
      {"data": {"name": "c_fit"}, "transform": [{"filter": "datum.s === 'f3'"}], "mark": {"type": "line", "color": "#ebb12b", "strokeWidth": 1, "clip": true}},
      {"data": {"name": "c_fit"}, "transform": [{"filter": "datum.s === 'f4'"}], "mark": {"type": "line", "color": "#854a9f", "strokeWidth": 1, "clip": true}},
      {"data": {"name": "c_pts"}, "transform": [{"filter": "datum.s === 'A = 15'"}], "layer": [
        {"mark": {"type": "line", "color": "#3c7dd1", "strokeWidth": 1, "strokeDash": [4, 3], "clip": true}},
        {"mark": {"type": "point", "color": "#3c7dd1", "shape": "M-1,0H1M0,-1V1", "filled": false, "size": 49, "strokeWidth": 1, "opacity": 1, "clip": true}}]},
      {"data": {"name": "c_pts"}, "transform": [{"filter": "datum.s === 'A = 25'"}], "layer": [
        {"mark": {"type": "line", "color": "#dc5a2c", "strokeWidth": 1, "strokeDash": [4, 3], "clip": true}},
        {"mark": {"type": "point", "color": "#dc5a2c", "shape": "circle", "filled": false, "size": 64, "strokeWidth": 1, "opacity": 1, "clip": true}}]},
      {"data": {"name": "c_pts"}, "transform": [{"filter": "datum.s === 'A = 38'"}], "layer": [
        {"mark": {"type": "line", "color": "#ebb12b", "strokeWidth": 1, "strokeDash": [4, 3], "clip": true}},
        {"mark": {"type": "point", "color": "#ebb12b", "shape": "M0,-1V1M-0.87,-0.5L0.87,0.5M-0.87,0.5L0.87,-0.5", "filled": false, "size": 49, "strokeWidth": 1, "opacity": 1, "clip": true}}]},
      {"data": {"name": "c_pts"}, "transform": [{"filter": "datum.s === 'A = 71'"}], "layer": [
        {"mark": {"type": "line", "color": "#854a9f", "strokeWidth": 1, "strokeDash": [4, 3], "clip": true}},
        {"mark": {"type": "point", "color": "#854a9f", "shape": "M-0.75,-0.75L0.75,0.75M-0.75,0.75L0.75,-0.75", "filled": false, "size": 49, "strokeWidth": 1, "opacity": 1, "clip": true}}]},
      {"data": {"name": "c_leg"}, "mark": {"type": "point", "filled": false, "size": 196, "strokeWidth": 1},
       "encoding": {
         "color": {"field": "s", "type": "nominal", "scale": {"domain": ["A = 15","A = 25","A = 38","A = 71","e = 10⁻¹·³0.01ᴷ","e = 10⁻¹0.003ᴷ","e = 10⁻¹·⁶0.002ᴷ","e = 10⁻²·¹0.001ᴷ"], "range": ["#3c7dd1","#dc5a2c","#ebb12b","#854a9f","#3c7dd1","#dc5a2c","#ebb12b","#854a9f"]}, "legend": {"title": null}},
         "shape": {"field": "s", "type": "nominal", "scale": {"domain": ["A = 15","A = 25","A = 38","A = 71","e = 10⁻¹·³0.01ᴷ","e = 10⁻¹0.003ᴷ","e = 10⁻¹·⁶0.002ᴷ","e = 10⁻²·¹0.001ᴷ"], "range": ["M-2.1,0H-1.4M-0.9,0H0.9M1.4,0H2.1M0,-0.5V0.5","M-2.1,0H-1.4M-0.9,0H0.9M1.4,0H2.1M0.5,0A0.5,0.5 0 1,1 -0.5,0A0.5,0.5 0 1,1 0.5,0","M-2.1,0H-1.4M-0.9,0H0.9M1.4,0H2.1M0,-0.5V0.5M-0.43,-0.25L0.43,0.25M-0.43,0.25L0.43,-0.25","M-2.1,0H-1.4M-0.9,0H0.9M1.4,0H2.1M-0.38,-0.38L0.38,0.38M-0.38,0.38L0.38,-0.38","M-2.1,0H2.1","M-2.1,0H2.1","M-2.1,0H2.1","M-2.1,0H2.1"]}, "legend": {"title": null}}
       }}
    ]
   },
   {
    "width": 410, "height": 255,
    "title": {"text": "(d) L refinement", "orient": "bottom", "anchor": "middle", "frame": "bounds", "offset": 41},
    "encoding": {
      "x": {"field": "x", "type": "quantitative", "scale": {"domain": [1, 5], "nice": false}, "axis": {"title": "L", "values": [1,1.5,2,2.5,3,3.5,4,4.5,5], "labelExpr": "toString(datum.value)"}},
      "y": {"field": "y", "type": "quantitative", "scale": {"type": "log", "domain": [1e-9, 1e-4], "nice": false}, "axis": {"title": "eₘₐᵢₙ", "titlePadding": 6, "values": [1e-9,2e-9,3e-9,4e-9,5e-9,6e-9,7e-9,8e-9,9e-9,1e-8,2e-8,3e-8,4e-8,5e-8,6e-8,7e-8,8e-8,9e-8,1e-7,2e-7,3e-7,4e-7,5e-7,6e-7,7e-7,8e-7,9e-7,1e-6,2e-6,3e-6,4e-6,5e-6,6e-6,7e-6,8e-6,9e-6,1e-5,2e-5,3e-5,4e-5,5e-5,6e-5,7e-5,8e-5,9e-5,1e-4], "labelExpr": "abs(log(datum.value)/LN10-round(log(datum.value)/LN10))>0.01?'':'10'+(round(log(datum.value)/LN10)<0?'⁻':'')+(abs(round(log(datum.value)/LN10))>=10?['⁰','¹','²','³','⁴','⁵','⁶','⁷','⁸','⁹'][floor(abs(round(log(datum.value)/LN10))/10)]:'')+['⁰','¹','²','³','⁴','⁵','⁶','⁷','⁸','⁹'][abs(round(log(datum.value)/LN10))%10]"}}
    },
    "layer": [
      {"data": {"name": "d_fit"}, "transform": [{"filter": "datum.s === 'f1'"}], "mark": {"type": "line", "color": "#3c7dd1", "strokeWidth": 1, "clip": true}},
      {"data": {"name": "d_fit"}, "transform": [{"filter": "datum.s === 'f2'"}], "mark": {"type": "line", "color": "#dc5a2c", "strokeWidth": 1, "clip": true}},
      {"data": {"name": "d_fit"}, "transform": [{"filter": "datum.s === 'f3'"}], "mark": {"type": "line", "color": "#ebb12b", "strokeWidth": 1, "clip": true}},
      {"data": {"name": "d_fit"}, "transform": [{"filter": "datum.s === 'f4'"}], "mark": {"type": "line", "color": "#854a9f", "strokeWidth": 1, "clip": true}},
      {"data": {"name": "d_pts"}, "transform": [{"filter": "datum.s === 'J = 6'"}], "layer": [
        {"mark": {"type": "line", "color": "#3c7dd1", "strokeWidth": 1, "strokeDash": [4, 3], "clip": true}},
        {"mark": {"type": "point", "color": "#3c7dd1", "shape": "M-1,0H1M0,-1V1", "filled": false, "size": 49, "strokeWidth": 1, "opacity": 1, "clip": true}}]},
      {"data": {"name": "d_pts"}, "transform": [{"filter": "datum.s === 'J = 11'"}], "layer": [
        {"mark": {"type": "line", "color": "#dc5a2c", "strokeWidth": 1, "strokeDash": [4, 3], "clip": true}},
        {"mark": {"type": "point", "color": "#dc5a2c", "shape": "circle", "filled": false, "size": 64, "strokeWidth": 1, "opacity": 1, "clip": true}}]},
      {"data": {"name": "d_pts"}, "transform": [{"filter": "datum.s === 'J = 25'"}], "layer": [
        {"mark": {"type": "line", "color": "#ebb12b", "strokeWidth": 1, "strokeDash": [4, 3], "clip": true}},
        {"mark": {"type": "point", "color": "#ebb12b", "shape": "M0,-1V1M-0.87,-0.5L0.87,0.5M-0.87,0.5L0.87,-0.5", "filled": false, "size": 49, "strokeWidth": 1, "opacity": 1, "clip": true}}]},
      {"data": {"name": "d_pts"}, "transform": [{"filter": "datum.s === 'J = 59'"}], "layer": [
        {"mark": {"type": "line", "color": "#854a9f", "strokeWidth": 1, "strokeDash": [4, 3], "clip": true}},
        {"mark": {"type": "point", "color": "#854a9f", "shape": "M-0.75,-0.75L0.75,0.75M-0.75,0.75L0.75,-0.75", "filled": false, "size": 49, "strokeWidth": 1, "opacity": 1, "clip": true}}]},
      {"data": {"name": "d_leg"}, "mark": {"type": "point", "filled": false, "size": 196, "strokeWidth": 1},
       "encoding": {
         "color": {"field": "s", "type": "nominal", "scale": {"domain": ["J = 6","J = 11","J = 25","J = 59","e = 10⁻¹·⁶0.06ᴸ","e = 10⁻²·⁶0.044ᴸ","e = 10⁻³·⁶0.03ᴸ","e = 10⁻³0.003ᴸ"], "range": ["#3c7dd1","#dc5a2c","#ebb12b","#854a9f","#3c7dd1","#dc5a2c","#ebb12b","#854a9f"]}, "legend": {"title": null}},
         "shape": {"field": "s", "type": "nominal", "scale": {"domain": ["J = 6","J = 11","J = 25","J = 59","e = 10⁻¹·⁶0.06ᴸ","e = 10⁻²·⁶0.044ᴸ","e = 10⁻³·⁶0.03ᴸ","e = 10⁻³0.003ᴸ"], "range": ["M-2.1,0H-1.4M-0.9,0H0.9M1.4,0H2.1M0,-0.5V0.5","M-2.1,0H-1.4M-0.9,0H0.9M1.4,0H2.1M0.5,0A0.5,0.5 0 1,1 -0.5,0A0.5,0.5 0 1,1 0.5,0","M-2.1,0H-1.4M-0.9,0H0.9M1.4,0H2.1M0,-0.5V0.5M-0.43,-0.25L0.43,0.25M-0.43,0.25L0.43,-0.25","M-2.1,0H-1.4M-0.9,0H0.9M1.4,0H2.1M-0.38,-0.38L0.38,0.38M-0.38,0.38L0.38,-0.38","M-2.1,0H2.1","M-2.1,0H2.1","M-2.1,0H2.1","M-2.1,0H2.1"]}, "legend": {"title": null}}
       }}
    ]
   }
]
}
